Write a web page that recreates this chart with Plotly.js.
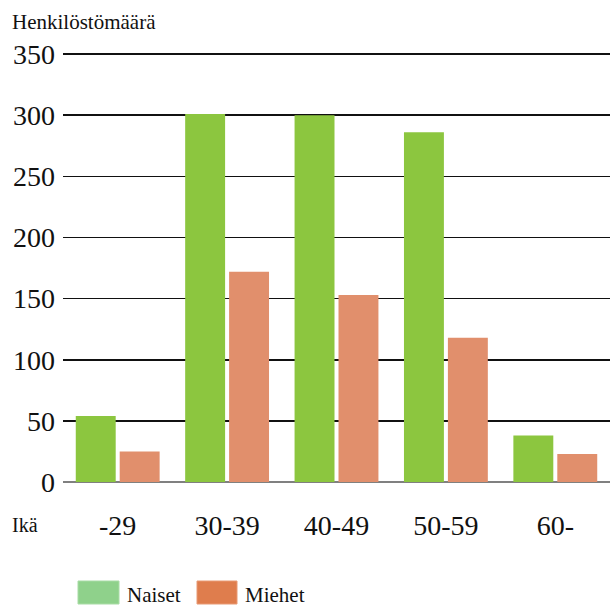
<!DOCTYPE html>
<html>
<head>
<meta charset="utf-8">
<script src="https://cdn.plot.ly/plotly-3.0.1.min.js"></script>
<style>html,body{margin:0;padding:0;background:#fff;}#chart{width:610px;height:606px;}</style>
</head>
<body>
<div id="chart"></div>
<script>
const categories = ["-29", "30-39", "40-49", "50-59", "60-"];
const naiset = [54, 301, 300, 286, 38];
const miehet = [25, 172, 153, 118, 23];
const seriesNames = ["Naiset", "Miehet"];
const yTicks = [0, 50, 100, 150, 200, 250, 300, 350];

const FONT = "'Liberation Serif', 'DejaVu Serif', serif";
const barGreen = "#8cc63f";
const barOrange = "#e18f6c";
const legGreen = "#8fd18b";
const legOrange = "#df7d4d";

// plot box: x 63..610, y 48..482 (value 350 at y=54)
const L = 63, W = 547, T = 48, H = 434, BOT = 482;
const px = x => (x - L) / W;
const py = y => (BOT - y) / H;

const traces = [
  {type: "bar", x: categories, y: naiset, name: seriesNames[0], marker: {color: barGreen}, showlegend: false, hoverinfo: "none"},
  {type: "bar", x: categories, y: miehet, name: seriesNames[1], marker: {color: barOrange}, showlegend: false, hoverinfo: "none"}
];

const layout = {
  width: 610, height: 606,
  margin: {l: L, r: 0, t: T, b: 606 - BOT},
  paper_bgcolor: "#fff", plot_bgcolor: "#fff",
  barmode: "group", bargap: 0.197, bargroupgap: 0.091,
  font: {family: FONT, color: "#111"},
  xaxis: {
    type: "category", showgrid: false, zeroline: false, showline: false,
    ticks: "", tickfont: {family: FONT, size: 28, color: "#111"},
    ticklabelstandoff: 24, fixedrange: true
  },
  yaxis: {
    range: [0, 355], tickvals: yTicks, ticktext: yTicks.map(String),
    showgrid: true, gridcolor: "#111", gridwidth: 1.5,
    zeroline: true, zerolinecolor: "#808080", zerolinewidth: 2.5,
    showline: false, ticks: "",
    tickfont: {family: FONT, size: 28, color: "#111"},
    ticklabelstandoff: 7, fixedrange: true
  },
  annotations: [
    {xref: "paper", yref: "paper", x: px(10), y: py(22), xanchor: "left", yanchor: "middle",
     text: "Henkilöstömäärä", showarrow: false, font: {family: FONT, size: 21, color: "#111"}},
    {xref: "paper", yref: "paper", x: px(10), y: py(525), xanchor: "left", yanchor: "middle",
     text: "Ikä", showarrow: false, font: {family: FONT, size: 20, color: "#111"}},
    {xref: "paper", yref: "paper", x: px(125), y: py(595), xanchor: "left", yanchor: "middle",
     text: seriesNames[0], showarrow: false, font: {family: FONT, size: 21, color: "#111"}},
    {xref: "paper", yref: "paper", x: px(243), y: py(595), xanchor: "left", yanchor: "middle",
     text: seriesNames[1], showarrow: false, font: {family: FONT, size: 21, color: "#111"}}
  ],
  shapes: [
    {type: "rect", xref: "paper", yref: "paper", x0: px(78), x1: px(119), y0: py(604), y1: py(581),
     fillcolor: legGreen, line: {color: "#a8dca5", width: 1}},
    {type: "rect", xref: "paper", yref: "paper", x0: px(197), x1: px(237), y0: py(604), y1: py(581),
     fillcolor: legOrange, line: {color: "#e89a74", width: 1}}
  ]
};

Plotly.newPlot("chart", traces, layout, {displayModeBar: false, staticPlot: true});
</script>
</body>
</html>
